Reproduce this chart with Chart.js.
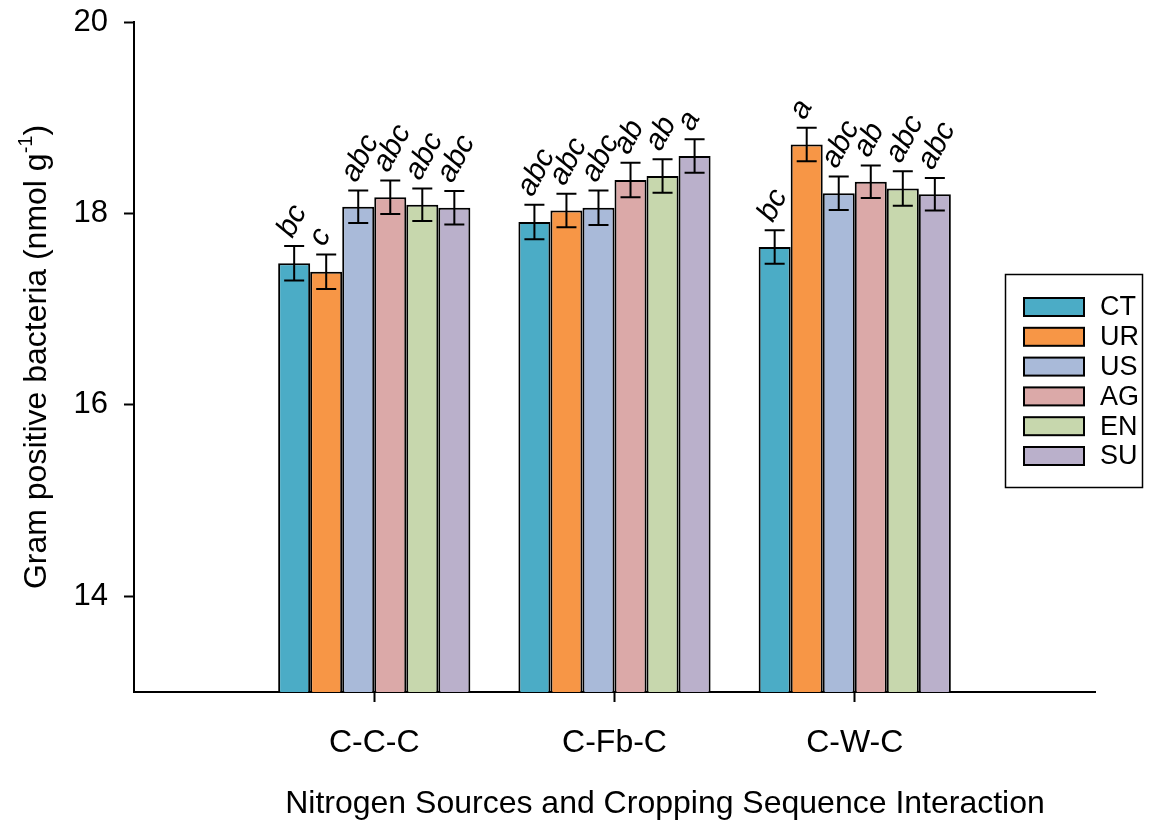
<!DOCTYPE html>
<html>
<head>
<meta charset="utf-8">
<script src="https://cdn.jsdelivr.net/npm/chart.js@4.4.1/dist/chart.umd.min.js"></script>
<style>
  html, body { margin: 0; padding: 0; background: #fff; }
  #wrap { width: 1150px; height: 820px; }
</style>
</head>
<body>
<div id="wrap"><canvas id="gpb-chart" width="1150" height="820"></canvas></div>
<script>
const categories = ["C-C-C", "C-Fb-C", "C-W-C"];
const treatments = ["CT", "UR", "US", "AG", "EN", "SU"];

const ctValues = [17.48, 17.91, 17.65];
const urValues = [17.39, 18.03, 18.72];
const usValues = [18.07, 18.06, 18.21];
const agValues = [18.17, 18.35, 18.33];
const enValues = [18.09, 18.39, 18.26];
const suValues = [18.06, 18.60, 18.20];

const ctErr = [0.18, 0.18, 0.175];
const urErr = [0.18, 0.175, 0.175];
const usErr = [0.17, 0.18, 0.175];
const agErr = [0.175, 0.18, 0.17];
const enErr = [0.17, 0.175, 0.18];
const suErr = [0.175, 0.175, 0.17];

const ctLetters = ["bc", "abc", "bc"];
const urLetters = ["c", "abc", "a"];
const usLetters = ["abc", "abc", "abc"];
const agLetters = ["abc", "ab", "ab"];
const enLetters = ["abc", "ab", "abc"];
const suLetters = ["abc", "a", "abc"];

const yTicks = [14, 16, 18, 20];

const colors = ["#4BACC6", "#F79646", "#A9BAD9", "#DBA9A8", "#C7D7AD", "#BAB0CB"];

const FONT = "'Liberation Sans', Arial, sans-serif";

// empty slot on each side, like the original axis
const labels = ["", ...categories, ""];
const pad = (arr) => [null, ...arr, null];

const allValues = [ctValues, urValues, usValues, agValues, enValues, suValues];
const allErr = [ctErr, urErr, usErr, agErr, enErr, suErr];
const allLetters = [ctLetters, urLetters, usLetters, agLetters, enLetters, suLetters];

const errorBarPlugin = {
  id: "errorBars",
  afterDatasetsDraw(chart) {
    const ctx = chart.ctx;
    const y = chart.scales.y;
    ctx.save();
    chart.data.datasets.forEach((ds, i) => {
      const meta = chart.getDatasetMeta(i);
      meta.data.forEach((bar, j) => {
        const v = ds.data[j];
        if (v === null) return;
        const e = allErr[i][j - 1];
        const top = y.getPixelForValue(v + e);
        const bot = y.getPixelForValue(v - e);
        ctx.strokeStyle = "#000";
        ctx.lineWidth = 2;
        ctx.beginPath();
        ctx.moveTo(bar.x, top);
        ctx.lineTo(bar.x, bot);
        ctx.moveTo(bar.x - 10, top);
        ctx.lineTo(bar.x + 10, top);
        ctx.moveTo(bar.x - 10, bot);
        ctx.lineTo(bar.x + 10, bot);
        ctx.stroke();

        // significance letters
        ctx.save();
        ctx.translate(bar.x - 2, top - 7);
        ctx.rotate(-62 * Math.PI / 180);
        ctx.font = "italic 30px " + FONT;
        ctx.fillStyle = "#000";
        ctx.textAlign = "left";
        ctx.textBaseline = "alphabetic";
        ctx.fillText(allLetters[i][j - 1], 0, 0);
        ctx.restore();
      });
    });
    ctx.restore();
  },
  afterDraw(chart) {
    const ctx = chart.ctx;
    const area = chart.chartArea;
    ctx.save();

    // y axis title with superscript
    ctx.translate(35, (area.top + area.bottom) / 2);
    ctx.rotate(-Math.PI / 2);
    ctx.fillStyle = "#000";
    ctx.textBaseline = "alphabetic";
    ctx.textAlign = "left";
    const main = "Gram positive bacteria (nmol g";
    const sup = "-1";
    const end = ")";
    ctx.font = "32px " + FONT;
    const w1 = ctx.measureText(main).width;
    const w3 = ctx.measureText(end).width;
    ctx.font = "20px " + FONT;
    const w2 = ctx.measureText(sup).width;
    let x0 = -(w1 + w2 + w3) / 2;
    ctx.font = "32px " + FONT;
    ctx.fillText(main, x0, 11);
    ctx.font = "20px " + FONT;
    ctx.fillText(sup, x0 + w1, -3);
    ctx.font = "32px " + FONT;
    ctx.fillText(end, x0 + w1 + w2, 11);
    ctx.restore();

    // x axis title
    ctx.save();
    ctx.font = "32px " + FONT;
    ctx.fillStyle = "#000";
    ctx.textAlign = "center";
    ctx.textBaseline = "alphabetic";
    ctx.fillText("Nitrogen Sources and Cropping Sequence Interaction", 665, 813);
    ctx.restore();

    // legend box
    ctx.save();
    ctx.strokeStyle = "#000";
    ctx.lineWidth = 1.5;
    ctx.strokeRect(1005.5, 274.5, 137, 213);
    ctx.font = "27px " + FONT;
    ctx.textAlign = "left";
    ctx.textBaseline = "middle";
    treatments.forEach((name, i) => {
      const top = 298 + i * 29.8;
      ctx.fillStyle = colors[i];
      ctx.fillRect(1024, top, 60, 18);
      ctx.lineWidth = 2;
      ctx.strokeRect(1024, top, 60, 18);
      ctx.fillStyle = "#000";
      ctx.fillText(name, 1100, top + 10);
    });
    ctx.restore();
  }
};

new Chart(document.getElementById("gpb-chart"), {
  type: "bar",
  data: {
    labels: labels,
    datasets: treatments.map((name, i) => ({
      label: name,
      data: pad(allValues[i]),
      backgroundColor: colors[i],
      borderColor: "#000",
      borderWidth: 2,
      borderSkipped: "bottom",
      categoryPercentage: 0.8,
      barPercentage: 1.0,
    })),
  },
  options: {
    responsive: false,
    animation: false,
    devicePixelRatio: 1,
    layout: { padding: { top: 22, right: 55, left: 0, bottom: 0 } },
    plugins: {
      legend: { display: false },
      tooltip: { enabled: false },
    },
    scales: {
      x: {
        type: "category",
        offset: false,
        grid: {
          offset: false,
          drawOnChartArea: false,
          drawTicks: true,
          tickLength: 10,
          tickWidth: 2,
          tickColor: (c) => (c.tick && c.tick.label === "" ? "rgba(0,0,0,0)" : "#000"),
        },
        border: { display: true, color: "#000", width: 2 },
        ticks: {
          color: "#000",
          font: { family: FONT, size: 32 },
          padding: 22,
          maxRotation: 0,
          autoSkip: false,
        },
        afterFit: (scale) => { scale.height = 128; scale.paddingLeft = 0; scale.paddingRight = 0; },
      },
      y: {
        min: 13,
        max: 20,
        grid: {
          drawOnChartArea: false,
          drawTicks: true,
          tickLength: 10,
          tickWidth: 2,
          tickColor: "#000",
        },
        border: { display: true, color: "#000", width: 2 },
        ticks: {
          color: "#000",
          font: { family: FONT, size: 31 },
          padding: 16,
        },
        afterBuildTicks: (scale) => { scale.ticks = yTicks.map((v) => ({ value: v })); },
        afterFit: (scale) => { scale.width = 134; scale.paddingTop = 0; scale.paddingBottom = 0; },
      },
    },
  },
  plugins: [errorBarPlugin],
});
</script>
</body>
</html>
